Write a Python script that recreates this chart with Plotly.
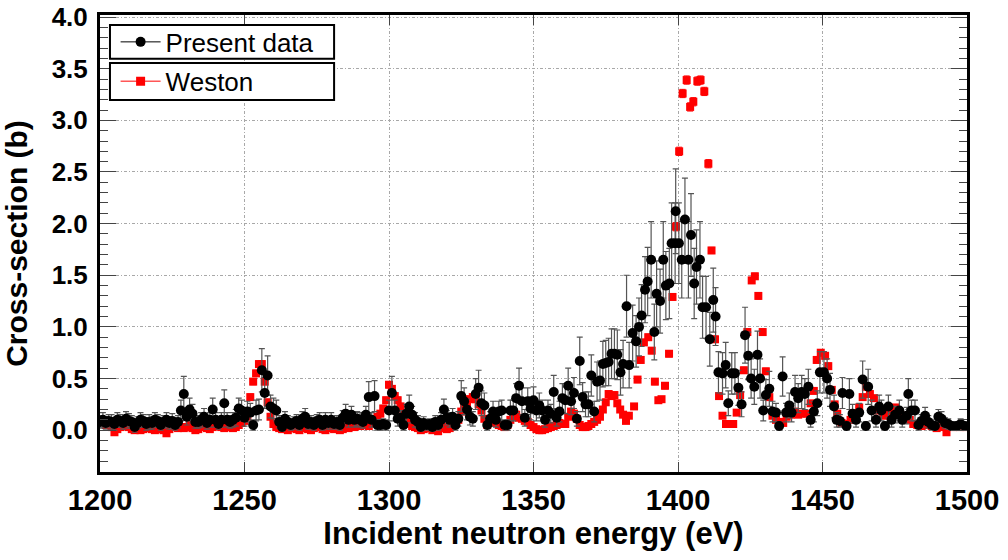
import plotly.graph_objects as go

# ---------------- data ----------------
# Present data: energies (eV) – 1 eV bins below 1380 eV, measured positions above
present_E_low = list(range(1200, 1380))
present_E_high = [
    1380.1, 1381.0, 1382.2, 1383.1, 1384.3, 1385.5, 1386.5, 1387.4, 1388.6, 1389.5,
    1390.7, 1391.8, 1392.6, 1393.8, 1394.9, 1395.8, 1397.0, 1397.8, 1399.0, 1399.2,
    1400.3, 1401.3, 1402.4, 1403.6, 1404.5, 1405.6, 1406.4, 1407.6, 1408.5, 1409.7,
    1411.0, 1412.2, 1413.0, 1414.0, 1415.4, 1416.5, 1417.4, 1418.6, 1419.7, 1420.9,
    1422.0, 1423.2, 1424.3, 1425.3, 1426.4, 1427.5, 1428.4, 1429.5, 1430.4, 1431.6,
    1432.7, 1433.9, 1435.0, 1436.2, 1437.4, 1438.5, 1439.3, 1440.5, 1441.6, 1442.8,
    1443.9, 1445.1, 1445.9, 1447.0, 1448.2, 1449.1, 1450.5, 1451.6, 1452.6, 1454.0,
    1454.9, 1456.0, 1456.9, 1458.3, 1459.3, 1460.4, 1461.6, 1462.7, 1463.9, 1465.0,
    1465.8, 1467.0, 1468.5, 1469.6, 1470.4, 1471.6, 1472.8, 1473.9, 1475.1, 1476.6,
    1477.6, 1479.1, 1479.7, 1480.8, 1482.0, 1483.2, 1484.3, 1485.5, 1486.6, 1487.8,
    1488.9, 1490.1, 1491.2, 1492.4, 1493.5, 1494.7, 1496.4, 1497.8, 1499.3,
]
present_xs = [
    0.08, 0.10, 0.07, 0.09, 0.08, 0.06, 0.10, 0.09, 0.07, 0.11,
    0.09, 0.08, 0.03, 0.07, 0.10, 0.09, 0.06, 0.08, 0.07, 0.10,
    0.09, 0.05, 0.08, 0.10, 0.07, 0.09, 0.05, 0.08, 0.19, 0.35,
    0.13, 0.20, 0.16, 0.08, 0.08, 0.10, 0.13, 0.07, 0.10, 0.20,
    0.10, 0.06, 0.10, 0.26, 0.10, 0.08, 0.10, 0.12, 0.21, 0.19,
    0.12, 0.18, 0.17, 0.05, 0.19, 0.20, 0.58, 0.36, 0.53, 0.23,
    0.21, 0.19, 0.08, 0.03, 0.11, 0.08, 0.05, 0.07, 0.09, 0.05,
    0.11, 0.13, 0.06, 0.08, 0.05, 0.09, 0.10, 0.05, 0.10, 0.07,
    0.10, 0.06, 0.08, 0.05, 0.12, 0.16, 0.10, 0.15, 0.10, 0.11,
    0.10, 0.08, 0.15, 0.32, 0.10, 0.33, 0.05, 0.05, 0.06, 0.05,
    0.19, 0.36, 0.19, 0.11, 0.12, 0.05, 0.16, 0.23, 0.15, 0.10,
    0.08, 0.03, 0.07, 0.05, 0.06, 0.03, 0.08, 0.05, 0.10, 0.20,
    0.12, 0.10, 0.13, 0.05, 0.11, 0.33, 0.28, 0.20, 0.13, 0.11,
    0.35, 0.41, 0.26, 0.24, 0.05, 0.11, 0.18, 0.10, 0.18, 0.19,
    0.05, 0.05, 0.19, 0.19, 0.31, 0.43, 0.28, 0.12, 0.28, 0.21,
    0.29, 0.19, 0.24, 0.19, 0.10, 0.19, 0.16, 0.37, 0.12, 0.18,
    0.31, 0.29, 0.43, 0.28, 0.36, 0.11, 0.67, 0.32, 0.25, 0.25,
    0.53, 0.18, 0.47, 0.48, 0.64, 0.65, 0.66, 0.74, 0.74, 0.73,
    # 1380 eV and above
    0.56, 0.64, 1.20, 0.63, 0.94, 0.86, 1.00, 1.11, 1.36, 1.44,
    1.65, 0.95, 1.32, 1.25, 1.65, 1.40, 1.42, 1.81, 1.81, 2.12,
    1.81, 1.65, 2.04, 1.65, 1.89, 1.42, 1.58, 1.65, 1.19, 1.19,
    0.88, 1.26, 1.10, 0.56, 0.55, 0.63, 0.26, 0.55, 0.55, 0.41,
    0.25, 0.92, 0.72, 0.50, 0.42, 0.73, 0.50, 0.19, 0.34, 0.40,
    0.18, 0.17, 0.04, 0.52, 0.17, 0.24, 0.17, 0.37, 0.31, 0.37,
    0.35, 0.42, 0.10, 0.18, 0.26, 0.56, 0.56, 0.50, 0.39, 0.23,
    0.10, 0.09, 0.36, 0.04, 0.35, 0.16, 0.10, 0.17, 0.49, 0.04,
    0.42, 0.19, 0.10, 0.23, 0.19, 0.04, 0.23, 0.10, 0.15, 0.19,
    0.10, 0.14, 0.35, 0.19, 0.19, 0.05, 0.09, 0.14, 0.08, 0.05,
    0.04, 0.13, 0.11, 0.07, 0.06, 0.04, 0.04, 0.06, 0.04,
]
present_err = [
    0.06, 0.07, 0.06, 0.06, 0.07, 0.06, 0.07, 0.06, 0.06, 0.07,
    0.07, 0.06, 0.05, 0.06, 0.07, 0.06, 0.06, 0.07, 0.06, 0.07,
    0.06, 0.05, 0.06, 0.07, 0.06, 0.07, 0.05, 0.06, 0.10, 0.17,
    0.08, 0.11, 0.09, 0.06, 0.06, 0.07, 0.08, 0.06, 0.07, 0.11,
    0.07, 0.05, 0.07, 0.13, 0.07, 0.06, 0.07, 0.08, 0.10, 0.10,
    0.08, 0.10, 0.09, 0.05, 0.10, 0.10, 0.21, 0.15, 0.19, 0.11,
    0.10, 0.10, 0.06, 0.04, 0.07, 0.06, 0.05, 0.06, 0.06, 0.05,
    0.07, 0.08, 0.05, 0.06, 0.05, 0.06, 0.07, 0.05, 0.07, 0.06,
    0.07, 0.05, 0.06, 0.05, 0.07, 0.09, 0.07, 0.08, 0.07, 0.07,
    0.07, 0.06, 0.08, 0.15, 0.07, 0.15, 0.05, 0.05, 0.05, 0.05,
    0.10, 0.16, 0.10, 0.07, 0.07, 0.05, 0.09, 0.11, 0.08, 0.07,
    0.06, 0.04, 0.06, 0.05, 0.05, 0.04, 0.06, 0.05, 0.07, 0.10,
    0.07, 0.07, 0.08, 0.05, 0.07, 0.15, 0.13, 0.10, 0.08, 0.07,
    0.15, 0.17, 0.12, 0.12, 0.05, 0.07, 0.10, 0.07, 0.10, 0.10,
    0.05, 0.05, 0.10, 0.10, 0.14, 0.17, 0.13, 0.08, 0.13, 0.11,
    0.13, 0.10, 0.12, 0.10, 0.07, 0.10, 0.09, 0.16, 0.08, 0.10,
    0.14, 0.13, 0.17, 0.13, 0.15, 0.07, 0.23, 0.14, 0.12, 0.12,
    0.20, 0.10, 0.19, 0.19, 0.22, 0.22, 0.23, 0.24, 0.24, 0.24,
    # 1380 eV and above
    0.22, 0.23, 0.30, 0.22, 0.27, 0.25, 0.28, 0.30, 0.32, 0.33,
    0.37, 0.27, 0.32, 0.31, 0.37, 0.33, 0.34, 0.39, 0.39, 0.41,
    0.39, 0.37, 0.40, 0.37, 0.40, 0.34, 0.36, 0.37, 0.30, 0.30,
    0.26, 0.31, 0.28, 0.20, 0.20, 0.22, 0.12, 0.20, 0.20, 0.17,
    0.12, 0.27, 0.23, 0.19, 0.17, 0.23, 0.19, 0.10, 0.15, 0.17,
    0.10, 0.09, 0.04, 0.19, 0.09, 0.12, 0.09, 0.16, 0.14, 0.16,
    0.15, 0.17, 0.07, 0.10, 0.12, 0.20, 0.20, 0.19, 0.16, 0.11,
    0.07, 0.06, 0.15, 0.04, 0.15, 0.09, 0.07, 0.09, 0.18, 0.04,
    0.17, 0.10, 0.07, 0.11, 0.10, 0.04, 0.11, 0.07, 0.08, 0.10,
    0.07, 0.08, 0.15, 0.10, 0.10, 0.05, 0.06, 0.08, 0.06, 0.05,
    0.04, 0.07, 0.07, 0.05, 0.05, 0.04, 0.04, 0.05, 0.04,
]

# Weston data
weston_E_low = list(range(1200, 1384))
weston_E_high = [
    1384.8, 1386.0, 1387.1, 1388.2, 1389.7, 1390.9, 1392.0, 1393.2, 1394.3, 1395.5,
    1396.9, 1398.1, 1399.3, 1400.4, 1401.6, 1403.0, 1404.2, 1405.3, 1406.7, 1407.8,
    1409.1, 1410.5, 1411.6, 1412.8, 1414.2, 1415.4, 1416.6, 1418.0, 1419.1, 1420.3,
    1421.5, 1422.8, 1424.0, 1425.5, 1426.6, 1427.8, 1429.3, 1430.4, 1431.6, 1432.7,
    1433.9, 1435.0, 1436.4, 1437.6, 1439.0, 1440.5, 1441.6, 1442.8, 1444.5, 1445.9,
    1447.0, 1448.0, 1449.4, 1450.9, 1452.0, 1453.2, 1454.2, 1455.1, 1456.6, 1458.1,
    1459.7, 1461.2, 1462.7, 1463.9, 1465.0, 1466.4, 1467.8, 1469.3, 1471.0, 1472.2,
    1473.9, 1475.4, 1476.8, 1478.5, 1480.2, 1481.4, 1482.8, 1484.3, 1486.0, 1487.8,
    1489.5, 1491.2, 1492.9, 1495.2, 1497.5, 1499.8,
]
weston_xs = [
    0.10, 0.08, 0.05, 0.05, 0.03, -0.02, 0.01, 0.03, 0.04, 0.05,
    0.03, 0.01, 0.00, 0.02, 0.00, 0.01, 0.02, 0.03, 0.01, 0.00,
    0.01, 0.02, 0.00, -0.03, 0.01, 0.03, 0.04, 0.02, 0.03, 0.02,
    0.03, 0.05, 0.02, 0.00, 0.01, 0.03, 0.04, 0.02, 0.01, 0.03,
    0.05, 0.04, 0.03, 0.02, 0.03, 0.04, 0.02, 0.03, 0.05, 0.07,
    0.09, 0.13, 0.32, 0.47, 0.55, 0.64, 0.64, 0.47, 0.27, 0.13,
    0.06, 0.03, 0.02, 0.01, 0.03, 0.00, 0.02, 0.04, 0.01, 0.00,
    0.02, 0.03, 0.01, 0.00, 0.02, 0.04, 0.03, 0.01, 0.00, 0.02,
    0.03, 0.01, 0.02, 0.00, 0.01, 0.03, 0.02, 0.04, 0.03, 0.05,
    0.04, 0.06, 0.05, 0.04, 0.07, 0.09, 0.13, 0.16, 0.21, 0.29,
    0.44, 0.40, 0.33, 0.29, 0.23, 0.15, 0.10, 0.06, 0.04, 0.03,
    0.02, 0.00, 0.01, 0.03, 0.02, 0.00, 0.01, -0.01, 0.02, 0.03,
    0.01, 0.02, 0.04, 0.06, 0.10, 0.18, 0.22, 0.26, 0.30, 0.32,
    0.30, 0.25, 0.19, 0.11, 0.05, 0.08, 0.10, 0.07, 0.05, 0.04,
    0.03, 0.05, 0.10, 0.13, 0.15, 0.12, 0.11, 0.09, 0.08, 0.05,
    0.03, 0.01, 0.00, 0.00, 0.01, 0.02, 0.03, 0.04, 0.05, 0.07,
    0.06, 0.06, 0.13, 0.18, 0.16, 0.11, 0.05, 0.03, 0.03, 0.04,
    0.06, 0.08, 0.10, 0.13, 0.20, 0.27, 0.35, 0.33, 0.34, 0.26,
    0.20, 0.15, 0.09, 0.14,
    # measured positions above 1384 eV
    0.23, 0.49, 0.68, 0.85, 0.90, 0.77, 0.47, 0.29, 0.30, 0.43,
    0.74, 1.29, 1.97, 2.70, 3.26, 3.39, 3.13, 3.18, 3.38, 3.39,
    3.28, 2.58, 1.74, 0.88, 0.33, 0.14, 0.06, 0.06, 0.06, 0.17,
    0.34, 0.58, 0.95, 1.45, 1.49, 1.30, 0.95, 0.57, 0.32, 0.14,
    0.10, 0.08, 0.07, 0.13, 0.15, 0.18, 0.15, 0.16, 0.16, 0.26,
    0.38, 0.68, 0.75, 0.72, 0.62, 0.39, 0.25, 0.16, 0.07, 0.06,
    0.10, 0.16, 0.22, 0.32, 0.42, 0.35, 0.31, 0.19, 0.14, 0.16,
    0.20, 0.22, 0.16, 0.14, 0.10, 0.06, 0.05, 0.04, 0.05, 0.04,
    0.02, 0.03, -0.02, 0.03, 0.03, 0.03,
]
weston_err = [
    0.02, 0.02, 0.02, 0.02, 0.02, 0.02, 0.02, 0.02, 0.02, 0.02,
    0.02, 0.02, 0.02, 0.02, 0.02, 0.02, 0.02, 0.02, 0.02, 0.02,
    0.02, 0.02, 0.02, 0.02, 0.02, 0.02, 0.02, 0.02, 0.02, 0.02,
    0.02, 0.02, 0.02, 0.02, 0.02, 0.02, 0.02, 0.02, 0.02, 0.02,
    0.02, 0.02, 0.02, 0.02, 0.02, 0.02, 0.02, 0.02, 0.02, 0.02,
    0.02, 0.02, 0.03, 0.03, 0.03, 0.03, 0.03, 0.03, 0.03, 0.02,
    0.02, 0.02, 0.02, 0.02, 0.02, 0.02, 0.02, 0.02, 0.02, 0.02,
    0.02, 0.02, 0.02, 0.02, 0.02, 0.02, 0.02, 0.02, 0.02, 0.02,
    0.02, 0.02, 0.02, 0.02, 0.02, 0.02, 0.02, 0.02, 0.02, 0.02,
    0.02, 0.02, 0.02, 0.02, 0.02, 0.02, 0.02, 0.02, 0.03, 0.03,
    0.03, 0.03, 0.03, 0.03, 0.03, 0.02, 0.02, 0.02, 0.02, 0.02,
    0.02, 0.02, 0.02, 0.02, 0.02, 0.02, 0.02, 0.02, 0.02, 0.02,
    0.02, 0.02, 0.02, 0.02, 0.02, 0.02, 0.02, 0.03, 0.03, 0.03,
    0.03, 0.03, 0.02, 0.02, 0.02, 0.02, 0.02, 0.02, 0.02, 0.02,
    0.02, 0.02, 0.02, 0.02, 0.02, 0.02, 0.02, 0.02, 0.02, 0.02,
    0.02, 0.02, 0.02, 0.02, 0.02, 0.02, 0.02, 0.02, 0.02, 0.02,
    0.02, 0.02, 0.02, 0.02, 0.02, 0.02, 0.02, 0.02, 0.02, 0.02,
    0.02, 0.02, 0.02, 0.02, 0.02, 0.03, 0.03, 0.03, 0.03, 0.03,
    0.02, 0.02, 0.02, 0.02,
    0.02, 0.03, 0.03, 0.03, 0.03, 0.03, 0.03, 0.02, 0.02, 0.03,
    0.03, 0.03, 0.04, 0.04, 0.04, 0.04, 0.04, 0.04, 0.04, 0.04,
    0.04, 0.04, 0.03, 0.03, 0.02, 0.02, 0.02, 0.02, 0.02, 0.02,
    0.02, 0.03, 0.03, 0.03, 0.03, 0.03, 0.03, 0.03, 0.02, 0.02,
    0.02, 0.02, 0.02, 0.02, 0.02, 0.02, 0.02, 0.02, 0.02, 0.02,
    0.02, 0.03, 0.03, 0.03, 0.03, 0.02, 0.02, 0.02, 0.02, 0.02,
    0.02, 0.02, 0.02, 0.02, 0.02, 0.02, 0.02, 0.02, 0.02, 0.02,
    0.02, 0.02, 0.02, 0.02, 0.02, 0.02, 0.02, 0.02, 0.02, 0.02,
    0.02, 0.02, 0.02, 0.02, 0.02, 0.02,
]

present_E = present_E_low + present_E_high
weston_E = weston_E_low + weston_E_high

x_ticks = [1200, 1250, 1300, 1350, 1400, 1450, 1500]
y_ticks = [0.0, 0.5, 1.0, 1.5, 2.0, 2.5, 3.0, 3.5, 4.0]
y_tick_text = ["0.0", "0.5", "1.0", "1.5", "2.0", "2.5", "3.0", "3.5", "4.0"]

# ---------------- figure ----------------
SANS = "Liberation Sans, Arial, Helvetica, sans-serif"

fig = go.Figure()

fig.add_trace(go.Scatter(
    x=weston_E, y=weston_xs, mode="markers", showlegend=False,
    marker=dict(symbol="square", size=8, color="#ff0000", line=dict(width=0)),
    error_y=dict(type="data", array=weston_err, visible=True,
                 color="#ff0000", thickness=1, width=3),
))
fig.add_trace(go.Scatter(
    x=present_E, y=present_xs, mode="markers", showlegend=False,
    marker=dict(symbol="circle", size=10, color="black", line=dict(width=0)),
    error_y=dict(type="data", array=present_err, visible=True,
                 color="#555555", thickness=1.2, width=3),
))

# legend entries (line + marker, as in the reference legend)
fig.add_trace(go.Scatter(
    x=[None], y=[None], mode="lines+markers", name="Present data",
    line=dict(color="black", width=1),
    marker=dict(symbol="circle", size=10, color="black"),
    legend="legend",
))
fig.add_trace(go.Scatter(
    x=[None], y=[None], mode="lines+markers", name="Weston",
    line=dict(color="#ff0000", width=1),
    marker=dict(symbol="square", size=9, color="#ff0000"),
    legend="legend2",
))

grid_dash = "3px,2px,1px,2px"

fig.update_layout(
    width=1008, height=560,
    margin=dict(l=100, r=41, t=15, b=88, autoexpand=False),
    paper_bgcolor="white", plot_bgcolor="white",
    showlegend=True,
    legend=dict(x=0.018, y=0.941, xanchor="left", yanchor="middle",
                bgcolor="rgba(0,0,0,0)", borderwidth=0, itemwidth=40,
                font=dict(family=SANS, size=26, color="black")),
    legend2=dict(x=0.018, y=0.855, xanchor="left", yanchor="middle",
                 bgcolor="rgba(0,0,0,0)", borderwidth=0, itemwidth=40,
                 font=dict(family=SANS, size=26, color="black")),
    shapes=[
        dict(type="rect", xref="paper", yref="paper", x0=0.0115, x1=0.270,
             y0=0.904, y1=0.978, fillcolor="white",
             line=dict(color="black", width=2), layer="above"),
        dict(type="rect", xref="paper", yref="paper", x0=0.0115, x1=0.270,
             y0=0.814, y1=0.895, fillcolor="white",
             line=dict(color="black", width=2), layer="above"),
    ],
    xaxis=dict(
        range=[1200, 1500], tickmode="array", tickvals=x_ticks,
        ticks="inside", ticklen=10, tickwidth=1, tickcolor="#444",
        showline=True, linewidth=3, linecolor="black", mirror="allticks",
        showgrid=True, gridcolor="#a8a8a8", gridwidth=1, griddash=grid_dash,
        zeroline=False, automargin=False, ticklabeloverflow="allow",
        ticklabelstandoff=0,
        tickfont=dict(family=SANS, size=29, color="black", weight="bold"),
        title=dict(text="Incident neutron energy (eV)",
                   font=dict(family=SANS, size=31, color="black", weight="bold"),
                   standoff=8),
    ),
    yaxis=dict(
        range=[-0.405, 4.02], tickmode="array", tickvals=y_ticks, ticktext=y_tick_text,
        ticks="inside", ticklen=16, tickwidth=1, tickcolor="#444",
        minor=dict(ticks="inside", ticklen=8, dtick=0.1, tick0=0, tickcolor="#444",
                   showgrid=False),
        showline=True, linewidth=3, linecolor="black", mirror="allticks",
        showgrid=True, gridcolor="#a8a8a8", gridwidth=1, griddash=grid_dash,
        zeroline=False, automargin=False, ticklabelstandoff=4,
        tickfont=dict(family=SANS, size=26, color="black", weight="bold"),
        title=dict(text="Cross-section (b)",
                   font=dict(family=SANS, size=30, color="black", weight="bold"),
                   standoff=18),
    ),
)

fig.write_html("out.html")
